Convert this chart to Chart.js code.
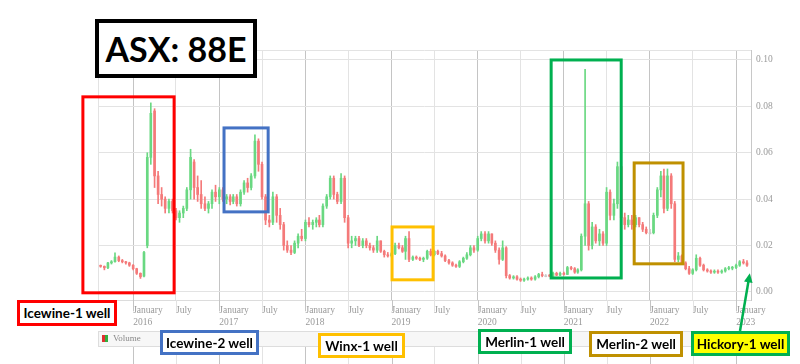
<!DOCTYPE html>
<html>
<head>
<meta charset="utf-8">
<script src="https://cdn.jsdelivr.net/npm/chart.js@4.4.0/dist/chart.umd.min.js"></script>
<style>
  html, body { margin: 0; padding: 0; background: #fff; }
  #wrap { position: relative; width: 800px; height: 364px; overflow: hidden; }
  #c { position: absolute; left: 0; top: 0; }
  .tag {
    position: absolute; box-sizing: border-box; background: #fff; color: #000;
    font-family: Lato, "Open Sans", sans-serif; font-weight: 700; font-size: 13.5px;
    display: flex; align-items: center; justify-content: center; white-space: nowrap;
    border: 3px solid #000;
  }
  .vol { position: absolute; left: 113px; top: 333px; font: 9px "Liberation Serif", serif; color: #888; }
</style>
</head>
<body>
<div id="wrap">
  <canvas id="c" width="800" height="364"></canvas>
  <div class="tag" style="left:95px;top:19px;width:162px;height:59px;border-width:4px;font-size:34px;">ASX: 88E</div>
  <div class="tag" style="left:17px;top:300px;width:100px;height:26px;border-color:#ff0000;">Icewine-1 well</div>
  <div class="tag" style="left:160px;top:330px;width:99px;height:25px;border-color:#4472c4;">Icewine-2 well</div>
  <div class="tag" style="left:318px;top:333px;width:87px;height:25px;border-color:#ffc000;">Winx-1 well</div>
  <div class="tag" style="left:478px;top:329px;width:94px;height:25px;border-color:#00b050;">Merlin-1 well</div>
  <div class="tag" style="left:589px;top:331px;width:94px;height:26px;border-color:#bf9000;">Merlin-2 well</div>
  <div class="tag" style="left:691px;top:331px;width:99px;height:25px;border-color:#00b050;background:#ffff00;">Hickory-1 well</div>
  <div class="vol">Volume</div>
</div>
<script>
// ── data: half-monthly candles, AUD ─────────────────────────────────────────
const periods = [
  '2015-08-16','2015-09-01','2015-09-16','2015-10-01','2015-10-16','2015-11-01','2015-11-16','2015-12-01','2015-12-16',
  '2016-01-01','2016-01-16','2016-02-01','2016-02-16','2016-03-01','2016-03-16','2016-04-01','2016-04-16','2016-05-01','2016-05-16','2016-06-01','2016-06-16',
  '2016-07-01','2016-07-16','2016-08-01','2016-08-16','2016-09-01','2016-09-16','2016-10-01','2016-10-16','2016-11-01','2016-11-16','2016-12-01','2016-12-16',
  '2017-01-01','2017-01-16','2017-02-01','2017-02-16','2017-03-01','2017-03-16','2017-04-01','2017-04-16','2017-05-01','2017-05-16','2017-06-01','2017-06-16',
  '2017-07-01','2017-07-16','2017-08-01','2017-08-16','2017-09-01','2017-09-16','2017-10-01','2017-10-16','2017-11-01','2017-11-16','2017-12-01','2017-12-16',
  '2018-01-01','2018-01-16','2018-02-01','2018-02-16','2018-03-01','2018-03-16','2018-04-01','2018-04-16','2018-05-01','2018-05-16','2018-06-01','2018-06-16',
  '2018-07-01','2018-07-16','2018-08-01','2018-08-16','2018-09-01','2018-09-16','2018-10-01','2018-10-16','2018-11-01','2018-11-16','2018-12-01','2018-12-16',
  '2019-01-01','2019-01-16','2019-02-01','2019-02-16','2019-03-01','2019-03-16','2019-04-01','2019-04-16','2019-05-01','2019-05-16','2019-06-01','2019-06-16',
  '2019-07-01','2019-07-16','2019-08-01','2019-08-16','2019-09-01','2019-09-16','2019-10-01','2019-10-16','2019-11-01','2019-11-16','2019-12-01','2019-12-16',
  '2020-01-01','2020-01-16','2020-02-01','2020-02-16','2020-03-01','2020-03-16','2020-04-01','2020-04-16','2020-05-01','2020-05-16','2020-06-01','2020-06-16',
  '2020-07-01','2020-07-16','2020-08-01','2020-08-16','2020-09-01','2020-09-16','2020-10-01','2020-10-16','2020-11-01','2020-11-16','2020-12-01','2020-12-16',
  '2021-01-01','2021-01-16','2021-02-01','2021-02-16','2021-03-01','2021-03-16','2021-04-01','2021-04-16','2021-05-01','2021-05-16','2021-06-01','2021-06-16',
  '2021-07-01','2021-07-16','2021-08-01','2021-08-16','2021-09-01','2021-09-16','2021-10-01','2021-10-16','2021-11-01','2021-11-16','2021-12-01','2021-12-16',
  '2022-01-01','2022-01-16','2022-02-01','2022-02-16','2022-03-01','2022-03-16','2022-04-01','2022-04-16','2022-05-01','2022-05-16','2022-06-01','2022-06-16',
  '2022-07-01','2022-07-16','2022-08-01','2022-08-16','2022-09-01','2022-09-16','2022-10-01','2022-10-16','2022-11-01','2022-11-16','2022-12-01','2022-12-16',
  '2023-01-01','2023-01-16','2023-02-01','2023-02-16'
];

const openPrices = [
  .0112,.0110,.0104,.0125,.0130,.0150,.0135,.0130,.0125,.0115,
  .0100,.0080,.0068,.0200,.0580,.0780,.0500,.0420,.0400,.0360,
  .0390,.0350,.0320,.0340,.0360,.0440,.0560,.0450,.0420,.0380,
  .0360,.0380,.0430,.0410,.0440,.0400,.0410,.0390,.0410,.0380,
  .0430,.0470,.0450,.0500,.0650,.0550,.0410,.0310,.0300,.0410,
  .0330,.0290,.0200,.0180,.0170,.0210,.0240,.0230,.0300,.0290,
  .0300,.0310,.0290,.0370,.0410,.0490,.0420,.0390,.0490,.0320,
  .0210,.0220,.0230,.0200,.0220,.0200,.0190,.0180,.0220,.0175,
  .0160,.0155,.0165,.0200,.0190,.0175,.0230,.0140,.0150,.0145,
  .0140,.0145,.0175,.0160,.0175,.0165,.0155,.0135,.0125,.0115,
  .0110,.0130,.0145,.0160,.0190,.0180,.0230,.0250,.0220,.0250,
  .0210,.0180,.0140,.0190,.0070,.0060,.0065,.0055,.0050,.0055,
  .0060,.0055,.0065,.0075,.0070,.0070,.0068,.0080,.0072,.0080,
  .0075,.0105,.0100,.0085,.0095,.0240,.0380,.0200,.0280,.0220,
  .0250,.0210,.0430,.0330,.0380,.0540,.0320,.0290,.0310,.0290,
  .0320,.0290,.0270,.0255,.0255,.0330,.0440,.0500,.0360,.0500,
  .0380,.0140,.0155,.0125,.0100,.0080,.0095,.0145,.0115,.0095,
  .0090,.0085,.0088,.0085,.0090,.0100,.0102,.0105,.0115,.0130,
  .0125
];
const highPrices = [
  .0116,.0112,.0127,.0135,.0168,.0155,.0140,.0132,.0128,.0118,
  .0102,.0082,.0175,.0600,.0815,.0790,.0520,.0450,.0410,.0400,
  .0400,.0360,.0350,.0370,.0450,.0615,.0570,.0500,.0480,.0410,
  .0390,.0440,.0460,.0450,.0450,.0420,.0420,.0420,.0420,.0440,
  .0480,.0490,.0510,.0677,.0660,.0560,.0420,.0330,.0430,.0420,
  .0360,.0300,.0220,.0200,.0220,.0250,.0270,.0310,.0320,.0310,
  .0320,.0330,.0380,.0420,.0500,.0500,.0430,.0510,.0500,.0330,
  .0240,.0240,.0240,.0230,.0230,.0210,.0200,.0240,.0220,.0180,
  .0170,.0170,.0210,.0210,.0200,.0240,.0260,.0155,.0155,.0150,
  .0150,.0180,.0185,.0180,.0180,.0175,.0160,.0140,.0130,.0120,
  .0135,.0150,.0170,.0200,.0200,.0240,.0260,.0260,.0260,.0250,
  .0220,.0190,.0220,.0195,.0075,.0070,.0070,.0060,.0060,.0065,
  .0065,.0070,.0080,.0085,.0075,.0075,.0085,.0085,.0085,.0085,
  .0110,.0110,.0105,.0100,.0250,.0960,.0390,.0300,.0290,.0270,
  .0260,.0450,.0440,.0400,.0560,.0560,.0340,.0330,.0330,.0330,
  .0320,.0300,.0280,.0270,.0340,.0450,.0520,.0530,.0530,.0510,
  .0390,.0170,.0160,.0130,.0110,.0100,.0160,.0150,.0120,.0100,
  .0095,.0095,.0095,.0095,.0105,.0110,.0110,.0120,.0135,.0140,
  .0135
];
const lowPrices = [
  .0106,.0095,.0100,.0120,.0128,.0130,.0125,.0120,.0110,.0095,
  .0075,.0058,.0065,.0190,.0550,.0450,.0380,.0370,.0340,.0340,
  .0340,.0310,.0300,.0320,.0350,.0400,.0400,.0390,.0360,.0350,
  .0340,.0360,.0390,.0380,.0390,.0380,.0375,.0380,.0370,.0370,
  .0420,.0430,.0440,.0490,.0520,.0400,.0290,.0280,.0290,.0300,
  .0270,.0180,.0170,.0160,.0165,.0190,.0220,.0220,.0280,.0270,
  .0280,.0280,.0280,.0360,.0400,.0400,.0380,.0380,.0300,.0190,
  .0190,.0200,.0195,.0190,.0190,.0180,.0170,.0170,.0170,.0150,
  .0150,.0150,.0160,.0185,.0170,.0140,.0130,.0135,.0140,.0135,
  .0130,.0140,.0155,.0155,.0160,.0150,.0130,.0120,.0110,.0105,
  .0105,.0125,.0140,.0155,.0170,.0175,.0220,.0210,.0210,.0200,
  .0170,.0120,.0135,.0060,.0055,.0055,.0050,.0045,.0045,.0050,
  .0050,.0050,.0060,.0065,.0065,.0065,.0065,.0070,.0070,.0072,
  .0075,.0095,.0080,.0080,.0090,.0200,.0180,.0185,.0210,.0200,
  .0200,.0200,.0310,.0310,.0360,.0300,.0270,.0280,.0270,.0280,
  .0280,.0260,.0250,.0250,.0250,.0320,.0410,.0340,.0350,.0360,
  .0130,.0130,.0120,.0095,.0075,.0075,.0090,.0110,.0090,.0085,
  .0080,.0080,.0080,.0080,.0085,.0095,.0095,.0100,.0110,.0120,
  .0110
];
const closePrices = [
  .0110,.0104,.0125,.0130,.0150,.0135,.0130,.0125,.0115,.0100,
  .0080,.0065,.0170,.0580,.0770,.0500,.0420,.0400,.0360,.0390,
  .0350,.0320,.0340,.0360,.0440,.0580,.0450,.0420,.0380,.0360,
  .0380,.0430,.0410,.0440,.0400,.0410,.0390,.0410,.0380,.0430,
  .0470,.0450,.0500,.0650,.0550,.0410,.0310,.0300,.0410,.0330,
  .0290,.0200,.0180,.0170,.0210,.0240,.0230,.0300,.0290,.0300,
  .0310,.0290,.0370,.0410,.0490,.0420,.0390,.0490,.0320,.0210,
  .0220,.0230,.0200,.0220,.0200,.0190,.0180,.0220,.0175,.0160,
  .0155,.0165,.0200,.0190,.0175,.0230,.0140,.0150,.0145,.0140,
  .0145,.0175,.0160,.0175,.0165,.0155,.0135,.0125,.0115,.0110,
  .0130,.0145,.0160,.0190,.0180,.0230,.0250,.0220,.0250,.0210,
  .0180,.0140,.0190,.0070,.0060,.0065,.0055,.0050,.0055,.0060,
  .0055,.0065,.0075,.0070,.0070,.0068,.0080,.0072,.0080,.0075,
  .0105,.0100,.0085,.0095,.0240,.0380,.0200,.0280,.0220,.0250,
  .0210,.0430,.0330,.0380,.0540,.0320,.0290,.0310,.0290,.0320,
  .0290,.0270,.0255,.0255,.0330,.0440,.0500,.0360,.0500,.0380,
  .0140,.0155,.0125,.0100,.0080,.0095,.0145,.0115,.0095,.0090,
  .0085,.0088,.0085,.0090,.0100,.0102,.0105,.0115,.0130,.0125,
  .0115
];

// ── axis ticks ──────────────────────────────────────────────────────────────
const tickDates = [
  '2016-01-01','2016-07-01','2017-01-01','2017-07-01','2018-01-01','2018-07-01','2019-01-01','2019-07-01',
  '2020-01-01','2020-07-01','2021-01-01','2021-07-01','2022-01-01','2022-07-01','2023-01-01'
];
const tickLabels = [
  ['January','2016'],'July',['January','2017'],'July',['January','2018'],'July',['January','2019'],'July',
  ['January','2020'],'July',['January','2021'],'July',['January','2022'],'July',['January','2023']
];
const priceTicks = [0, 0.02, 0.04, 0.06, 0.08, 0.10];

// ── drilling annotations (date span, price span) ────────────────────────────
const wellBoxes = [
  { from: '2015-06-02', to: '2016-06-23', lo: -0.0004, hi: 0.0841, color: '#ff0000' },
  { from: '2017-01-21', to: '2017-07-27', lo: 0.0345,  hi: 0.0707, color: '#4472c4' },
  { from: '2019-01-03', to: '2019-06-26', lo: 0.0052,  hi: 0.0280, color: '#ffc000' },
  { from: '2020-11-08', to: '2021-09-01', lo: 0.0060,  hi: 0.1000, color: '#00b050' },
  { from: '2021-10-26', to: '2022-05-21', lo: 0.0121,  hi: 0.0556, color: '#bf9000' },
];

const C = { up: '#6ad882', down: '#f47a7a', flat: '#c9c9c9', grid: '#e3e3e3', gridDark: '#c4c4c4', text: '#999' };

function toYear(s) {
  const d = Date.parse(s + 'T00:00:00Z');
  const y = +s.slice(0, 4);
  const a = Date.UTC(y, 0, 1), b = Date.UTC(y + 1, 0, 1);
  return y + (d - a) / (b - a);
}

const xs = periods.map(toYear);
const colorOf = (i) => closePrices[i] > openPrices[i] ? C.up : (closePrices[i] < openPrices[i] ? C.down : C.flat);
const colors = periods.map((_, i) => colorOf(i));

// ── overlay plugin: borders, well boxes, arrow, volume strip ────────────────
const overlay = {
  id: 'overlay',
  afterDraw(chart) {
    const { ctx, chartArea: a, scales: { x, y } } = chart;
    ctx.save();
    // frame + extended tick marks
    ctx.strokeStyle = C.grid; ctx.lineWidth = 1;
    ctx.beginPath();
    ctx.moveTo(a.left, a.top + 0.5); ctx.lineTo(a.right, a.top + 0.5);
    ctx.moveTo(a.left + 0.5, a.top); ctx.lineTo(a.left + 0.5, a.bottom);
    ctx.stroke();
    x.ticks.forEach((t, i) => {
      const px = Math.round(x.getPixelForValue(t.value)) + 0.5;
      ctx.strokeStyle = Array.isArray(tickLabels[i]) ? C.gridDark : C.grid;
      ctx.beginPath();
      ctx.moveTo(px, a.bottom); ctx.lineTo(px, a.bottom + 11);
      ctx.moveTo(px, 346); ctx.lineTo(px, 364);
      ctx.stroke();
    });
    // volume strip
    ctx.fillStyle = '#f7f7f7'; ctx.strokeStyle = '#dddddd';
    ctx.fillRect(a.left, 331, a.right - a.left, 15);
    ctx.strokeRect(a.left + 0.5, 331.5, a.right - a.left, 15);
    ctx.fillStyle = '#e03030'; ctx.fillRect(102, 335, 3, 7);
    ctx.fillStyle = '#30b040'; ctx.fillRect(105, 335, 3, 7);
    // well boxes
    ctx.lineWidth = 3;
    wellBoxes.forEach((b) => {
      const x0 = x.getPixelForValue(toYear(b.from)), x1 = x.getPixelForValue(toYear(b.to));
      const y0 = y.getPixelForValue(b.hi), y1 = y.getPixelForValue(b.lo);
      ctx.strokeStyle = b.color;
      ctx.strokeRect(x0, y0, x1 - x0, y1 - y0);
    });
    // arrow to the latest candles
    const tx = x.getPixelForValue(toYear('2023-02-28')), ty = y.getPixelForValue(0.0080);
    const sx = 740, sy = 331;
    const ang = Math.atan2(ty - sy, tx - sx);
    ctx.strokeStyle = '#00b050'; ctx.fillStyle = '#00b050'; ctx.lineWidth = 2.5;
    ctx.beginPath(); ctx.moveTo(sx, sy);
    ctx.lineTo(tx - 8 * Math.cos(ang), ty - 8 * Math.sin(ang)); ctx.stroke();
    ctx.beginPath();
    ctx.moveTo(tx, ty);
    ctx.lineTo(tx - 10 * Math.cos(ang - 0.45), ty - 10 * Math.sin(ang - 0.45));
    ctx.lineTo(tx - 10 * Math.cos(ang + 0.45), ty - 10 * Math.sin(ang + 0.45));
    ctx.closePath(); ctx.fill();
    ctx.restore();
  },
};

new Chart(document.getElementById('c'), {
  type: 'bar',
  data: {
    datasets: [
      {
        label: 'range',
        data: xs.map((v, i) => ({ x: v, y: [lowPrices[i], highPrices[i]] })),
        backgroundColor: colors, barThickness: 1, minBarLength: 1, grouped: false,
      },
      {
        label: 'body',
        data: xs.map((v, i) => ({ x: v, y: [Math.min(openPrices[i], closePrices[i]), Math.max(openPrices[i], closePrices[i])] })),
        backgroundColor: colors, barThickness: 2, minBarLength: 1, grouped: false,
      },
    ],
  },
  options: {
    responsive: false,
    animation: false,
    devicePixelRatio: 1,
    layout: { padding: { left: 98, top: 50, right: 0, bottom: 0 } },
    plugins: { legend: { display: false }, tooltip: { enabled: false } },
    scales: {
      x: {
        type: 'linear',
        offset: false,
        min: toYear('2015-08-05'),
        max: toYear('2023-03-05'),
        afterBuildTicks: (s) => { s.ticks = tickDates.map((d) => ({ value: toYear(d) })); },
        afterFit: (s) => { s.height = 64; },
        grid: {
          offset: false,
          drawTicks: false,
          color: (c) => (Array.isArray(tickLabels[c.index]) ? C.gridDark : C.grid),
        },
        border: { color: '#dcdcdc' },
        ticks: {
          align: 'start', autoSkip: false, maxRotation: 0, padding: 5,
          color: C.text, font: { family: "'Liberation Serif', serif", size: 9.5 },
          callback: (v, i) => tickLabels[i],
        },
      },
      y: {
        position: 'right',
        min: -0.0035,
        max: 0.1043,
        afterBuildTicks: (s) => { s.ticks = priceTicks.map((v) => ({ value: v })); },
        afterFit: (s) => { s.width = 49; },
        grid: { color: C.grid, drawTicks: false },
        border: { color: '#c8c8c8' },
        ticks: {
          padding: 5, color: C.text, font: { family: "'Liberation Serif', serif", size: 9.5 },
          callback: (v) => v.toFixed(2),
        },
      },
    },
  },
  plugins: [overlay],
});
</script>
</body>
</html>
